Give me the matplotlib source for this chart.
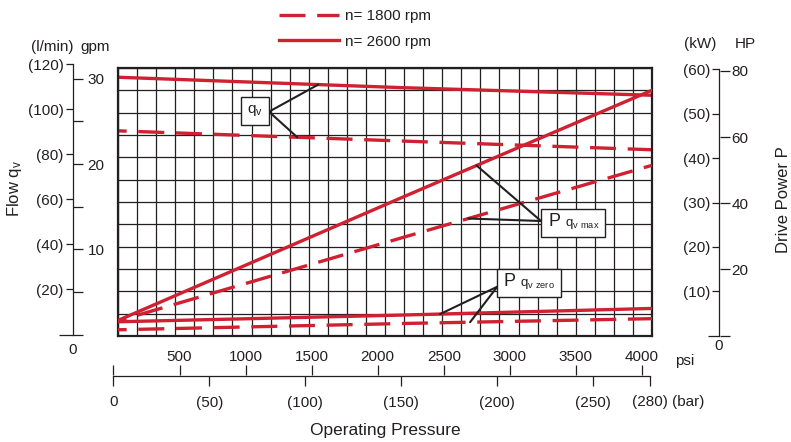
import matplotlib
matplotlib.use('Agg')
import matplotlib.pyplot as plt
import numpy as np
from matplotlib.lines import Line2D
from matplotlib.patches import Rectangle

plt.rcParams['font.family'] = ['Liberation Sans', 'DejaVu Sans']
plt.rcParams['mathtext.default'] = 'regular'

# curves, pressure in bar
pressure = [0, 148, 280]
flow_1800 = [90.4, 85.9, 82.0]          # l/min
flow_2600 = [114.2, 109.6, 106.2]
power_max_1800 = [3.4, 22.0, 38.4]      # kW at q_v max
power_max_2600 = [3.5, 31.0, 55.3]
power_zero_1800 = [1.4, 2.8, 3.9]       # kW at q_v zero
power_zero_2600 = [3.2, 4.7, 6.2]

# scale ticks
lmin_ticks = [20, 40, 60, 80, 100, 120]
gpm_ticks = [10, 20, 30]
gpm_minor = [0, 5, 15, 25]
kw_ticks = [10, 20, 30, 40, 50, 60]
hp_ticks = [20, 40, 60, 80]
bar_ticks = [50, 100, 150, 200, 250, 280]
psi_ticks = [500, 1000, 1500, 2000, 2500, 3000, 3500, 4000]

LMIN_PER_GPM = 3.785
KW_PER_HP = 0.7457
PSI_PER_BAR = 14.504

RED = '#cf2131'
INK = '#231f20'
W, H = 791, 442
LW = 2.4
DASH = (5.2, (7.8, 3.5))

fig = plt.figure(figsize=(W / 100, H / 100), dpi=100)


def box(x0, y0, x1, y1):
    # pixel box (origin top-left) -> figure fraction rect
    return [x0 / W, 1 - y1 / H, (x1 - x0) / W, (y1 - y0) / H]


def fxy(x, y):
    return (x / W, 1 - y / H)


# main grid
ax = fig.add_axes(box(118, 68, 652, 336))
ax.set_xlim(0, 280)
ax.set_ylim(-0.7, 118.3)
ax.set_xticks(np.linspace(0, 280, 29))
ax.set_yticks(np.linspace(-0.7, 118.3, 13))
ax.tick_params(length=0, labelbottom=False, labelleft=False)
ax.grid(True, color=INK, lw=0.9)
for s in ax.spines.values():
    s.set_linewidth(1.6)
    s.set_color(INK)

axp = ax.twinx()
axp.set_ylim(0, 60.3)
axp.axis('off')

ax.plot(pressure, flow_1800, color=RED, lw=LW, ls=DASH)
ax.plot(pressure, flow_2600, color=RED, lw=LW)
axp.plot(pressure, power_max_1800, color=RED, lw=LW, ls=DASH)
axp.plot(pressure, power_max_2600, color=RED, lw=LW)
axp.plot(pressure, power_zero_1800, color=RED, lw=LW, ls=DASH)
axp.plot(pressure, power_zero_2600, color=RED, lw=LW)


def scale_axes(rect, lim, vertical):
    a = fig.add_axes(rect)
    a.patch.set_visible(False)
    if vertical:
        a.set_ylim(lim)
        a.set_xticks([])
    else:
        a.set_xlim(lim)
        a.set_yticks([])
    for s in a.spines.values():
        s.set_visible(False)
        s.set_color(INK)
        s.set_linewidth(0.9)
    return a


# left flow scale
axl = scale_axes(box(72.5, 64.3, 73, 334.5), (0, 120), True)
axl.spines['left'].set_visible(True)
axl.set_yticks(lmin_ticks, [f'({v})' for v in lmin_ticks])
axl.set_yticks([0], minor=True)
axl.tick_params(axis='y', which='major', length=5, width=0.9, pad=1.5,
                labelsize=11, color=INK, labelcolor=INK)
axl.tick_params(axis='y', which='minor', length=10, width=0.9, color=INK)
gpm = axl.secondary_yaxis('right', functions=(lambda q: q / LMIN_PER_GPM,
                                                lambda g: g * LMIN_PER_GPM))
gpm.spines['right'].set_visible(False)
gpm.set_yticks(gpm_ticks)
gpm.set_yticks(gpm_minor, minor=True)
gpm.tick_params(which='major', length=7, width=0.9, pad=3.5, labelsize=11,
                color=INK, labelcolor=INK)
gpm.tick_params(which='minor', length=7, width=0.9, color=INK)

# right power scale
axr = scale_axes(box(719, 69.3, 719.5, 335.7), (0, 60), True)
axr.spines['left'].set_visible(True)
axr.set_yticks(kw_ticks, [f'({v})' for v in kw_ticks])
axr.set_yticks([0], minor=True)
axr.tick_params(axis='y', which='major', length=5, width=0.9, pad=1.5,
                labelsize=11, color=INK, labelcolor=INK)
axr.tick_params(axis='y', which='minor', length=8, width=0.9, color=INK)
hp = axr.secondary_yaxis('right', functions=(lambda k: k / KW_PER_HP,
                                               lambda h: h * KW_PER_HP))
hp.spines['right'].set_visible(False)
hp.set_yticks(hp_ticks)
hp.set_yticks([0], minor=True)
hp.tick_params(which='major', length=7, width=0.9, pad=1.5, labelsize=11,
               color=INK, labelcolor=INK)
hp.tick_params(which='minor', length=7, width=0.9, color=INK)

# bottom pressure scale
axb = scale_axes(box(113.5, 375.5, 650, 376), (0, 280), False)
axb.spines['bottom'].set_visible(True)
axb.set_xticks(bar_ticks, [f'({v})' for v in bar_ticks[:-1]] + [''])
axb.set_xticks([0], minor=True)
axb.tick_params(axis='x', which='major', length=7, width=0.9, pad=7.5,
                labelsize=11, color=INK, labelcolor=INK)
axb.tick_params(axis='x', which='minor', length=7, width=0.9, color=INK)
psi = axb.secondary_xaxis('top', functions=(lambda b: b * PSI_PER_BAR,
                                              lambda p: p / PSI_PER_BAR))
psi.spines['top'].set_visible(False)
psi.set_xticks(psi_ticks)
psi.set_xticks([0], minor=True)
psi.tick_params(which='major', length=7, width=0.9, pad=1.5, labelsize=11,
                color=INK, labelcolor=INK)
psi.tick_params(which='minor', length=7, width=0.9, color=INK)

# texts
txt = dict(color=INK, ha='center', va='center', fontsize=11)
fig.text(*fxy(52, 47), '(l/min)', **txt)
fig.text(*fxy(95, 47), 'gpm', **txt)
fig.text(*fxy(73, 350), '0', **txt)
fig.text(*fxy(14, 189), 'Flow $q_v$', rotation=90, **{**txt, 'fontsize': 12})
fig.text(*fxy(700, 44), '(kW)', **txt)
fig.text(*fxy(745, 44), 'HP', **txt)
fig.text(*fxy(719, 346), '0', **txt)
fig.text(*fxy(783, 200), 'Drive Power P', rotation=90, **{**txt, 'fontsize': 12})
fig.text(*fxy(114, 402), '0', **txt)
fig.text(*fxy(632, 402), '(280)', **{**txt, 'ha': 'left'})
fig.text(*fxy(672, 402), '(bar)', **{**txt, 'ha': 'left'})
fig.text(*fxy(675, 361.5), 'psi', **{**txt, 'ha': 'left'})
fig.text(*fxy(385, 431), 'Operating Pressure', **{**txt, 'fontsize': 12.5})

# label boxes
for x0, y0, x1, y1 in [(241, 97.3, 269, 125), (541, 209, 605, 237.3),
                       (497.3, 269.3, 560.7, 297.3)]:
    fig.add_artist(Rectangle(fxy(x0, y1), (x1 - x0) / W, (y1 - y0) / H,
                             transform=fig.transFigure, facecolor='white',
                             edgecolor=INK, lw=1.0, zorder=2))
fig.text(*fxy(255, 110), '$q_v$', zorder=3, **txt)
fig.text(*fxy(548, 222), 'P', zorder=3, **{**txt, 'ha': 'left', 'fontsize': 13})
fig.text(*fxy(565, 224), '$q_{v\\ max}$', zorder=3, **{**txt, 'ha': 'left', 'fontsize': 9.5})
fig.text(*fxy(503, 282), 'P', zorder=3, **{**txt, 'ha': 'left', 'fontsize': 13})
fig.text(*fxy(520, 284), '$q_{v\\ zero}$', zorder=3, **{**txt, 'ha': 'left', 'fontsize': 9.5})


def leader(axis, p, series, start):
    axis.annotate('', xy=(p, np.interp(p, pressure, series)), xycoords='data',
                  xytext=fxy(*start), textcoords='figure fraction',
                  arrowprops=dict(arrowstyle='-', color=INK, lw=1.5,
                                  shrinkA=0, shrinkB=0))


leader(ax, 105, flow_2600, (269, 111.7))
leader(ax, 94, flow_1800, (269, 111.7))
leader(axp, 188, power_max_2600, (541, 221))
leader(axp, 183.7, power_max_1800, (541, 221))
leader(axp, 168.9, power_zero_2600, (497.3, 286.7))
leader(axp, 184.6, power_zero_1800, (497.3, 286.7))

handles = [Line2D([], [], color=RED, lw=LW, ls=(0, (7.8, 3.5))),
           Line2D([], [], color=RED, lw=LW)]
fig.legend(handles, ['n= 1800 rpm', 'n= 2600 rpm'], loc='upper left',
           bbox_to_anchor=fxy(279, 9), frameon=False, borderpad=0,
           borderaxespad=0, handlelength=3.9, handletextpad=0.4,
           labelspacing=0.76, fontsize=11, labelcolor=INK)

fig.savefig('out.png', dpi=100)
